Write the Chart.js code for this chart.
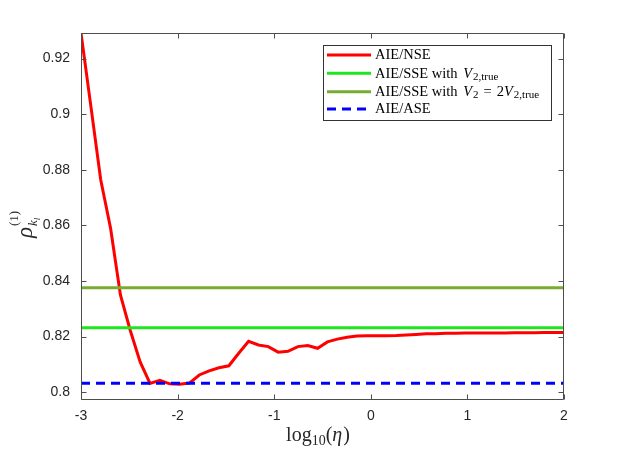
<!DOCTYPE html>
<html><head><meta charset="utf-8">
<script src="https://cdn.jsdelivr.net/npm/chart.js@4.4.0/dist/chart.umd.min.js"></script>
<style>html,body{margin:0;padding:0;background:#fff;}#wrap{width:623px;height:451px;position:relative;}</style>
</head><body><div id="wrap"><canvas id="c"></canvas></div>
<script>
// log10(eta) sample positions
const logEta = [-3, -2.8980, -2.7959, -2.6939, -2.5918, -2.4898, -2.3878, -2.2857, -2.1837, -2.0816,
  -1.9796, -1.8776, -1.7755, -1.6735, -1.5714, -1.4694, -1.3673, -1.2653, -1.1633, -1.0612,
  -0.9592, -0.8571, -0.7551, -0.6531, -0.5510, -0.4490, -0.3469, -0.2449, -0.1429, -0.0408,
  0.0612, 0.1633, 0.2653, 0.3673, 0.4694, 0.5714, 0.6735, 0.7755, 0.8776, 0.9796,
  1.0816, 1.1837, 1.2857, 1.3878, 1.4898, 1.5918, 1.6939, 1.7959, 1.8980, 2];
// AIE/NSE
const aieNse = [0.9292, 0.9029, 0.8764, 0.8590, 0.8350, 0.8222, 0.8109, 0.8032, 0.8043, 0.8030,
  0.8029, 0.8033, 0.8062, 0.8077, 0.8088, 0.8095, 0.8140, 0.8183, 0.8170, 0.8164,
  0.8144, 0.8147, 0.8164, 0.8168, 0.8158, 0.8181, 0.8191, 0.8198, 0.8202, 0.8203,
  0.8203, 0.8203, 0.8204, 0.8206, 0.8208, 0.8210, 0.8210, 0.8212, 0.8212, 0.8213,
  0.8213, 0.8213, 0.8213, 0.8213, 0.8214, 0.8214, 0.8214, 0.8215, 0.8215, 0.8215];
// constant levels
const aieSseTrue = 0.8232;
const aieSse2 = 0.8376;
const aieAse = 0.8032;
const xRange = [-3, 2];
const yRange = [0.7972, 0.9292];
const xTicks = [-3, -2, -1, 0, 1, 2];
const yTicks = [0.80, 0.82, 0.84, 0.86, 0.88, 0.90, 0.92];
const seriesLabels = ['AIE/NSE', 'AIE/SSE with V2,true', 'AIE/SSE with V2 = 2V2,true', 'AIE/ASE'];

const colors = ['#ff0000', '#1ee61e', '#77ac30', '#0000ff'];

function flat(v){ return xRange.map(x => ({x: x, y: v})); }

const SERIF = '"Liberation Serif", "DejaVu Serif", serif';
const SANS = '"Liberation Sans", Arial, sans-serif';

function drawRich(ctx, parts, x, y) {
  // parts: [text, size, italic, dy, extraSpaceAfter]
  let cx = x;
  for (const p of parts) {
    ctx.font = (p[2] ? 'italic ' : '') + p[1] + 'px ' + SERIF;
    ctx.fillText(p[0], cx, y + (p[3] || 0));
    cx += ctx.measureText(p[0]).width + (p[4] || 0);
  }
  return cx - x;
}
function richWidth(ctx, parts) {
  let w = 0;
  for (const p of parts) {
    ctx.font = (p[2] ? 'italic ' : '') + p[1] + 'px ' + SERIF;
    w += ctx.measureText(p[0]).width + (p[4] || 0);
  }
  return w;
}

const F = 14.5, FS = 11;
const legendRich = [
  [['AIE/NSE', F, false]],
  [['AIE/SSE with ', F, false, 0, 2], ['V', F, true, 0, 1], ['2,true', FS, false, 3]],
  [['AIE/SSE with ', F, false, 0, 2], ['V', F, true, 0, 1], ['2', FS, false, 3, 5], ['=', F, false, 0, 5], ['2', F, false], ['V', F, true, 0, 1], ['2,true', FS, false, 3]],
  [['AIE/ASE', F, false]]
];

const decor = {
  id: 'decor',
  afterDatasetsDraw(chart) {
    const ctx = chart.ctx, a = chart.chartArea, sx = chart.scales.x, sy = chart.scales.y;
    ctx.save();
    // box and inner ticks
    ctx.strokeStyle = '#4d4d4d';
    ctx.lineWidth = 1;
    const L = Math.round(a.left) + 0.5, R = Math.round(a.right) - 0.5, T = Math.round(a.top) + 0.5, B = Math.round(a.bottom) - 0.5;
    ctx.beginPath();
    ctx.rect(L, T, R - L, B - T);
    for (const t of sy.ticks) {
      const y = Math.round(sy.getPixelForValue(t.value)) + 0.5;
      ctx.moveTo(L, y); ctx.lineTo(L + 5, y);
      ctx.moveTo(R, y); ctx.lineTo(R - 5, y);
    }
    for (const t of sx.ticks) {
      const x = Math.round(sx.getPixelForValue(t.value)) + 0.5;
      ctx.moveTo(x, B); ctx.lineTo(x, B - 5);
      ctx.moveTo(x, T); ctx.lineTo(x, T + 5);
    }
    ctx.stroke();

    // legend
    const lx0 = 323.5, ly0 = 45.5, lw = 228, lh = 75;
    ctx.fillStyle = '#fff';
    ctx.fillRect(lx0, ly0, lw, lh);
    ctx.strokeStyle = '#333';
    ctx.strokeRect(lx0, ly0, lw, lh);
    const rows = [55, 73.3, 91.7, 109];
    chart.data.datasets.forEach((ds, i) => {
      const y = rows[i];
      ctx.beginPath();
      ctx.strokeStyle = ds.borderColor;
      ctx.lineWidth = 3;
      ctx.setLineDash(ds.borderDash || []);
      ctx.moveTo(327, y); ctx.lineTo(371, y);
      ctx.stroke();
      ctx.setLineDash([]);
      ctx.fillStyle = '#000';
      ctx.textBaseline = 'middle';
      ctx.textAlign = 'left';
      drawRich(ctx, legendRich[i], 375, y + 0.5);
    });

    // x title: log10(eta)
    ctx.fillStyle = '#262626';
    ctx.textBaseline = 'alphabetic';
    const xt = [['log', 20, false], ['10', 14, false, 4], ['(', 20, false], ['\u03b7', 20, true, 0, 1], [')', 20, false]];
    const w = richWidth(ctx, xt);
    drawRich(ctx, xt, 318 - w / 2, 441);

    // y title: rho^(1)_{k_l}
    ctx.translate(28, 238);
    ctx.rotate(-Math.PI / 2);
    ctx.textBaseline = 'alphabetic';
    ctx.font = 'italic 23px ' + SERIF;
    ctx.fillText('\u03c1', 0, 4);
    const rw = ctx.measureText('\u03c1').width;
    ctx.font = '13px ' + SERIF;
    ctx.fillText('(1)', rw + 1, -10);
    ctx.font = 'italic 13px ' + SERIF;
    ctx.fillText('k', rw + 1, 9);
    const kw = ctx.measureText('k').width;
    ctx.font = 'italic 9px ' + SERIF;
    ctx.fillText('l', rw + 1 + kw, 12);
    ctx.restore();
  }
};

new Chart(document.getElementById('c'), {
  type: 'line',
  data: {
    datasets: [
      { label: seriesLabels[0], data: logEta.map((x, i) => ({x: x, y: aieNse[i]})), borderColor: colors[0], borderWidth: 3, order: 3 },
      { label: seriesLabels[1], data: flat(aieSseTrue), borderColor: colors[1], borderWidth: 3, order: 2 },
      { label: seriesLabels[2], data: flat(aieSse2), borderColor: colors[2], borderWidth: 3, order: 1 },
      { label: seriesLabels[3], data: flat(aieAse), borderColor: colors[3], borderWidth: 3, borderDash: [9, 6], order: 0 }
    ]
  },
  options: {
    responsive: true,
    maintainAspectRatio: false,
    animation: false,
    devicePixelRatio: 1,
    layout: { padding: { top: 33, right: 59, left: 0, bottom: 0 } },
    elements: { point: { radius: 0 }, line: { tension: 0, fill: false } },
    plugins: { legend: { display: false }, tooltip: { enabled: false } },
    scales: {
      x: {
        type: 'linear', min: xRange[0], max: xRange[1],
        afterFit: s => { s.height = 51; },
        afterBuildTicks: s => { s.ticks = xTicks.map(v => ({value: v})); },
        grid: { display: false, drawTicks: false },
        border: { display: false },
        ticks: { padding: 8, color: '#262626', font: { family: SANS, size: 14 }, maxRotation: 0,
          callback: v => String(v) }
      },
      y: {
        type: 'linear', min: yRange[0], max: yRange[1],
        afterFit: s => { s.width = 81; },
        afterBuildTicks: s => { s.ticks = yTicks.map(v => ({value: v})); },
        grid: { display: false, drawTicks: false },
        border: { display: false },
        ticks: { padding: 11, color: '#262626', font: { family: SANS, size: 14 },
          callback: v => String(parseFloat(v.toFixed(2))) }
      }
    }
  },
  plugins: [decor]
});
</script>
</body></html>
